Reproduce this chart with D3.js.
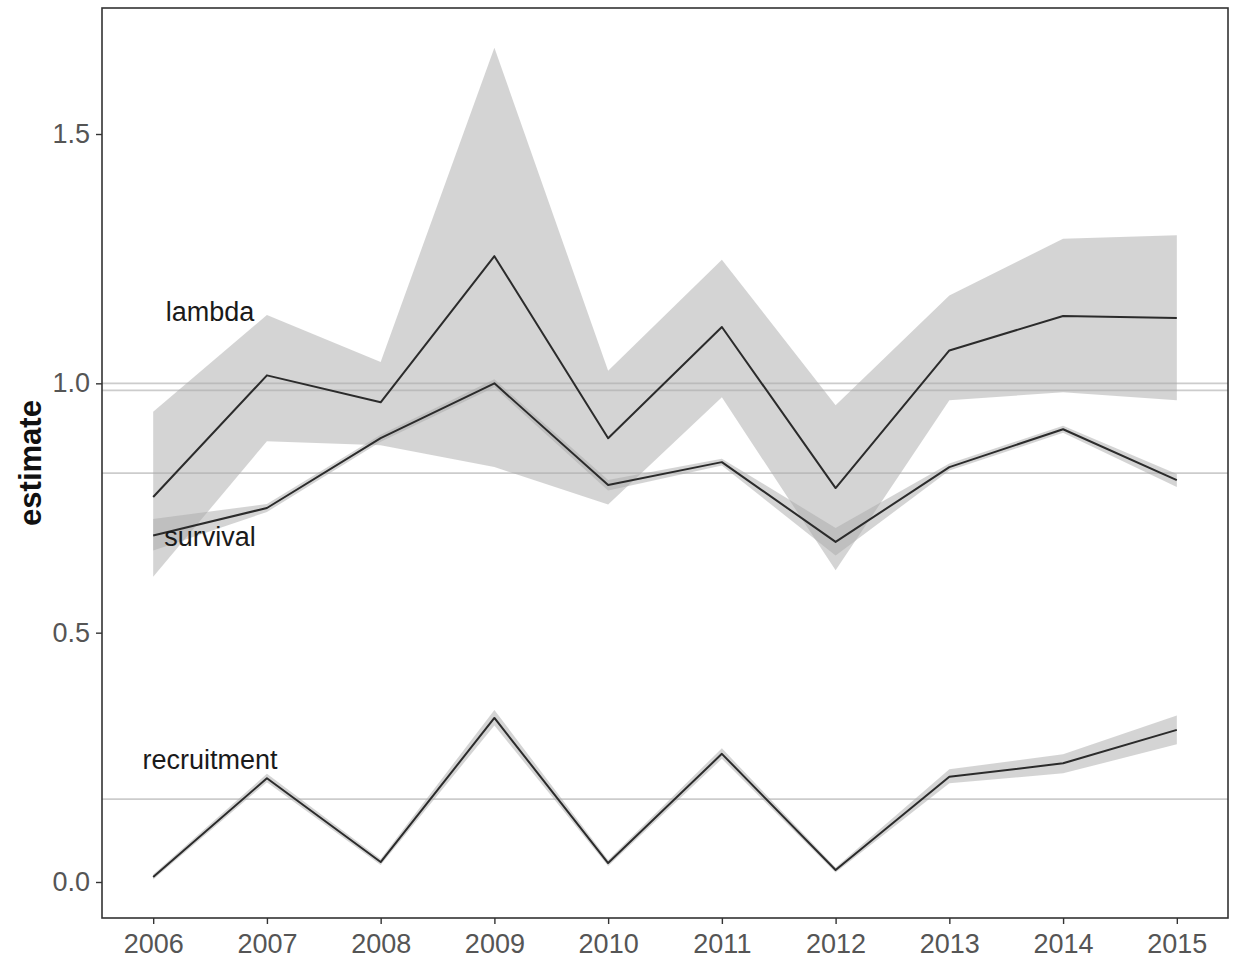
<!DOCTYPE html>
<html>
<head>
<meta charset="utf-8">
<script src="https://cdn.jsdelivr.net/npm/d3@7"></script>
<style>
  html, body { margin: 0; padding: 0; background: #fff; }
  svg { display: block; font-family: "Liberation Sans", Arial, sans-serif; }
</style>
</head>
<body>
<svg id="chart" width="1233" height="964"></svg>
<script>
// Annual estimates with 95% intervals
const years = [2006, 2007, 2008, 2009, 2010, 2011, 2012, 2013, 2014, 2015];

const lambdaEst = [0.772, 1.016, 0.962, 1.255, 0.890, 1.113, 0.790, 1.066, 1.135, 1.131];
const lambdaLo  = [0.612, 0.884, 0.876, 0.832, 0.757, 0.972, 0.625, 0.966, 0.982, 0.966];
const lambdaHi  = [0.943, 1.137, 1.043, 1.673, 1.025, 1.248, 0.956, 1.176, 1.290, 1.297];

const survivalEst = [0.695, 0.750, 0.890, 1.000, 0.796, 0.842, 0.682, 0.832, 0.908, 0.806];
const survivalLo  = [0.665, 0.742, 0.883, 0.992, 0.785, 0.835, 0.655, 0.825, 0.901, 0.792];
const survivalHi  = [0.728, 0.758, 0.897, 1.008, 0.806, 0.849, 0.710, 0.839, 0.915, 0.818];

const recruitEst = [0.010, 0.208, 0.040, 0.329, 0.038, 0.257, 0.024, 0.211, 0.238, 0.305];
const recruitLo  = [0.005, 0.200, 0.034, 0.314, 0.032, 0.247, 0.019, 0.198, 0.218, 0.276];
const recruitHi  = [0.015, 0.217, 0.046, 0.345, 0.044, 0.268, 0.029, 0.226, 0.256, 0.334];

// Horizontal reference levels
const refLines = [1.0, 0.986, 0.82, 0.166];

// Series labels placed near the left edge
const labelNames  = ["lambda", "survival", "recruitment"];
const labelYears  = [2006.5, 2006.5, 2006.5];
const labelValues = [1.143, 0.692, 0.245];

const yTicks = [0, 0.5, 1.0, 1.5];

const panel = { left: 102, right: 1228, top: 8, bottom: 918 };

const x = d3.scaleLinear().domain([2006 - 0.45, 2015 + 0.45]).range([panel.left, panel.right]);
const y = d3.scaleLinear().domain([-0.0722, 1.7527]).range([panel.bottom, panel.top]);

const svg = d3.select("#chart");

const rows = (est, lo, hi) => years.map((yr, i) => ({ year: yr, est: est[i], lo: lo[i], hi: hi[i] }));
const series = [
  rows(lambdaEst, lambdaLo, lambdaHi),
  rows(survivalEst, survivalLo, survivalHi),
  rows(recruitEst, recruitLo, recruitHi)
];

const plot = svg.append("g");

// reference lines
plot.selectAll("line.ref").data(refLines).join("line")
  .attr("class", "ref")
  .attr("x1", panel.left).attr("x2", panel.right)
  .attr("y1", d => y(d)).attr("y2", d => y(d))
  .attr("stroke", "#cccccc").attr("stroke-width", 1.8);

// confidence ribbons
const area = d3.area().x(d => x(d.year)).y0(d => y(d.lo)).y1(d => y(d.hi));
plot.selectAll("path.band").data(series).join("path")
  .attr("class", "band")
  .attr("d", area)
  .attr("fill", "#a9a9a9").attr("fill-opacity", 0.5);

// estimate lines
const line = d3.line().x(d => x(d.year)).y(d => y(d.est));
plot.selectAll("path.est").data(series).join("path")
  .attr("class", "est")
  .attr("d", line)
  .attr("fill", "none").attr("stroke", "#2b2b2b").attr("stroke-width", 2)
  .attr("stroke-linejoin", "round");

// series labels
plot.selectAll("text.lab").data(labelNames).join("text")
  .attr("class", "lab")
  .attr("x", (d, i) => x(labelYears[i]))
  .attr("y", (d, i) => y(labelValues[i]))
  .attr("text-anchor", "middle").attr("dominant-baseline", "central")
  .attr("font-size", 27).attr("fill", "#1a1a1a")
  .text(d => d);

// panel border
svg.append("rect")
  .attr("x", panel.left).attr("y", panel.top)
  .attr("width", panel.right - panel.left).attr("height", panel.bottom - panel.top)
  .attr("fill", "none").attr("stroke", "#333").attr("stroke-width", 1.6);

// axes
const yAxis = svg.append("g").attr("transform", `translate(${panel.left},0)`)
  .call(d3.axisLeft(y).tickValues(yTicks).tickFormat(d3.format(".1f")).tickSize(6).tickPadding(6));
const xAxis = svg.append("g").attr("transform", `translate(0,${panel.bottom})`)
  .call(d3.axisBottom(x).tickValues(years).tickFormat(d3.format("d")).tickSize(6).tickPadding(10));

[yAxis, xAxis].forEach(g => {
  g.select(".domain").remove();
  g.selectAll(".tick line").attr("stroke", "#333").attr("stroke-width", 1.4);
  g.selectAll(".tick text").attr("font-size", 27).attr("fill", "#555")
    .attr("font-family", "'Liberation Sans', Arial, sans-serif");
});

// y axis title
svg.append("text")
  .attr("transform", `translate(30,${(panel.top + panel.bottom) / 2}) rotate(-90)`)
  .attr("text-anchor", "middle").attr("dominant-baseline", "central")
  .attr("font-size", 31).attr("font-weight", "bold").attr("fill", "#111")
  .text("estimate");
</script>
</body>
</html>
